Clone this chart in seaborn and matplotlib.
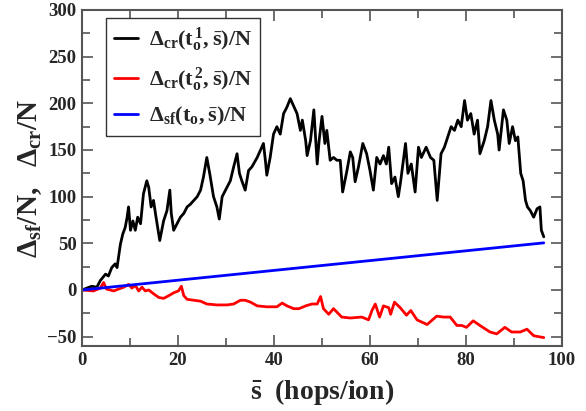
import matplotlib
matplotlib.use("Agg")
import matplotlib.pyplot as plt
from matplotlib.ticker import MultipleLocator
import pandas as pd
import seaborn as sns

# Delta_cr(t_o^1, s)/N
black_x = [0, 2.0, 3.1, 3.8, 4.9, 5.5, 6.2, 6.9, 7.3, 8.0,
           8.5, 9.0, 9.4, 9.7, 10.1, 10.6, 11.1, 11.6, 12.2, 12.8,
           13.5, 13.9, 14.4, 14.9, 15.3, 16.2, 17.0, 17.7, 18.3, 18.6,
           19.1, 19.8, 20.5, 21.2, 21.9, 22.6, 23.3, 24.0, 24.7, 25.3,
           26.0, 26.6, 27.4, 28.1, 28.6, 29.2, 30.2, 30.9, 31.6, 32.3,
           32.8, 33.3, 34.0, 34.7, 35.4, 36.5, 37.2, 37.8, 38.2, 38.5,
           39.2, 39.9, 40.6, 41.3, 42.0, 42.7, 43.4, 44.8, 45.5, 45.9,
           46.6, 46.9, 47.6, 48.3, 49.0, 49.4, 50.0, 50.6, 51.0, 51.7,
           52.4, 53.1, 53.8, 54.3, 55.2, 55.9, 56.4, 56.9, 57.6, 58.5,
           59.3, 60.0, 60.7, 61.4, 62.1, 62.8, 63.4, 63.9, 64.5, 65.2,
           65.9, 66.4, 67.4, 67.9, 68.6, 69.4, 70.1, 70.7, 71.7, 72.6,
           73.3, 74.0, 74.8, 75.5, 76.2, 76.9, 77.6, 78.3, 79.0, 79.7,
           80.3, 81.0, 81.7, 82.4, 82.9, 83.8, 84.5, 85.2, 85.9, 86.6,
           86.9, 87.8, 88.5, 89.0, 89.7, 90.3, 90.8, 91.4, 91.9, 92.4,
           92.8, 93.4, 94.1, 94.8, 95.4, 95.7, 96.2]
black_y = [0, 4, 3, 10, 17, 15, 24, 28, 24, 49,
           60, 67, 78, 89, 64, 74, 64, 78, 71, 103,
           117, 110, 89, 96, 82, 53, 74, 85, 107, 82,
           64, 71, 78, 82, 89, 92, 96, 100, 107, 121,
           142, 125, 100, 89, 76, 100, 110, 117, 132, 146,
           125, 117, 107, 128, 132, 142, 150, 157, 139, 123,
           142, 167, 175, 167, 189, 196, 205, 189, 171, 182,
           160, 144, 160, 193, 135, 160, 186, 157, 171, 139,
           142, 139, 139, 105, 128, 148, 142, 116, 132, 157,
           146, 128, 107, 142, 135, 144, 135, 153, 114, 121,
           100, 117, 157, 125, 135, 105, 153, 142, 153, 142,
           139, 96, 146, 153, 164, 175, 171, 182, 175, 203,
           182, 189, 167, 182, 146, 160, 175, 203, 182, 167,
           150, 193, 182, 157, 175, 160, 164, 125, 117, 96,
           89, 85, 78, 87, 89, 64, 57]

# Delta_cr(t_o^2, s)/N
red_x = [0, 2.4, 3.8, 4.5, 5.1, 6.6, 7.6, 8.7, 9.7, 10.4,
         11.1, 11.8, 12.5, 13.2, 13.9, 14.9, 16.0, 17.0, 18.1, 19.1,
         20.1, 20.7, 21.2, 21.9, 23.3, 24.7, 26.0, 28.1, 30.2, 31.6,
         33.0, 34.0, 35.1, 36.5, 38.5, 40.6, 41.7, 42.7, 44.1, 45.2,
         46.6, 47.9, 49.0, 49.7, 50.3, 51.4, 52.4, 54.1, 55.9, 58.3,
         59.7, 60.4, 61.1, 62.0, 62.8, 63.9, 64.3, 65.1, 66.3, 67.6,
         68.5, 69.8, 71.9, 73.9, 75.3, 76.7, 78.1, 79.1, 80.1, 81.5,
         82.9, 85.0, 86.4, 88.1, 89.5, 91.3, 92.7, 94.1, 96.2]
red_y = [0, -1, 2, 8, 1, -1, 1, 3, 6, 2,
         5, -1, 3, -1, 0, -4, -8, -9, -6, -3,
         -1, 4, -6, -10, -11, -12, -15, -16, -16, -15,
         -11, -11, -13, -17, -18, -18, -14, -17, -20, -20,
         -17, -15, -15, -7, -20, -26, -20, -29, -30, -29,
         -32, -22, -15, -29, -17, -19, -26, -13, -19, -27,
         -22, -32, -37, -28, -29, -29, -38, -38, -40, -33,
         -38, -45, -47, -40, -45, -45, -42, -49, -51]

# Delta_sf(t_o, s)/N
blue_x = [0, 96.2]
blue_y = [0, 50.5]

labels = [r"$\Delta_{\rm cr}(\rm t_o^{\,1},\bar{s})/N$",
          r"$\Delta_{\rm cr}(\rm t_o^{\,2},\bar{s})/N$",
          r"$\Delta_{\rm sf}(\rm t_o,\bar{s})/N$"]
colors = ["#000000", "#ff0000", "#0000ff"]

sns.set_theme(style="ticks")
plt.rcParams["font.family"] = ["Liberation Serif", "DejaVu Serif"]
plt.rcParams["font.weight"] = "bold"
plt.rcParams["mathtext.fontset"] = "custom"
plt.rcParams["mathtext.rm"] = "Liberation Serif:bold"
plt.rcParams["mathtext.it"] = "Liberation Serif:bold"
plt.rcParams["mathtext.bf"] = "Liberation Serif:bold"
plt.rcParams["mathtext.sf"] = "Liberation Serif:bold"

fig = plt.figure(figsize=(5.86, 4.11), dpi=100)
ax = fig.add_axes([82 / 586, 65 / 411, 480 / 586, 336 / 411])

series = [(black_x, black_y), (red_x, red_y), (blue_x, blue_y)]
for (xs, ys), lab, col in zip(series, labels, colors):
    df = pd.DataFrame({"s": xs, "d": ys})
    sns.lineplot(data=df, x="s", y="d", ax=ax, color=col, lw=2.0,
                 label=lab, sort=False, estimator=None)

ax.set_xlim(0, 100)
ax.set_ylim(-60, 300)
ax.xaxis.set_major_locator(MultipleLocator(20))
ax.xaxis.set_minor_locator(MultipleLocator(10))
ax.yaxis.set_major_locator(MultipleLocator(50))
ax.yaxis.set_minor_locator(MultipleLocator(25))
ax.tick_params(which="both", direction="in", top=True, right=True,
               color="#555555", width=1.2, labelsize=13.5, pad=4)
ax.tick_params(which="major", length=8)
ax.tick_params(which="minor", length=6)
for lbl in ax.get_xticklabels() + ax.get_yticklabels():
    lbl.set_fontweight("bold")
for sp in ax.spines.values():
    sp.set_color("#555555")
    sp.set_linewidth(1.5)

ax.set_xlabel(r"$\bar{\rm s}$  (hops/ion)", fontsize=20, fontweight="bold",
              labelpad=6)
ax.set_ylabel(r"$\Delta_{\rm sf}/N,\ \ \Delta_{\rm cr}/N$", fontsize=21,
              labelpad=2)

leg = ax.legend(loc="upper left", bbox_to_anchor=(0.05, 0.975),
                fontsize=16, frameon=True, fancybox=False, framealpha=1,
                edgecolor="#333333", handlelength=1.1, handletextpad=0.5,
                labelspacing=0.5, borderpad=0.35, borderaxespad=0)
leg.get_frame().set_linewidth(1.0)

fig.savefig("out.png", dpi=100)
